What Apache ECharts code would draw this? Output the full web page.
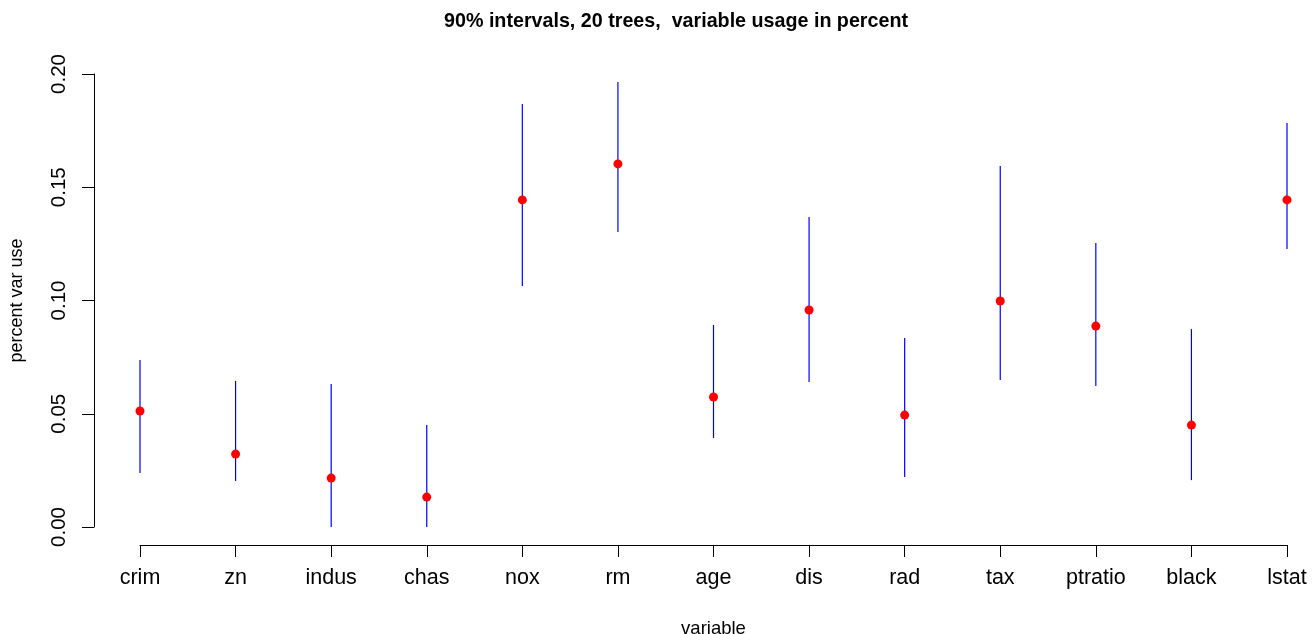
<!DOCTYPE html>
<html>
<head>
<meta charset="utf-8">
<script src="https://cdn.jsdelivr.net/npm/echarts@6/dist/echarts.min.js"></script>
<style>html,body{margin:0;padding:0;background:#fff;overflow:hidden}#c{width:1316px;height:634px}</style>
</head>
<body>
<div id="c"></div>
<script>
const categories = ['crim','zn','indus','chas','nox','rm','age','dis','rad','tax','ptratio','black','lstat'];
const pointValues = [0.0512,0.0322,0.0216,0.0132,0.1444,0.1603,0.0574,0.0958,0.0494,0.0998,0.0887,0.0450,0.1444];
const lowValues   = [0.0238,0.0203,0.0000,0.0000,0.1064,0.1302,0.0393,0.0640,0.0221,0.0649,0.0623,0.0207,0.1227];
const highValues  = [0.0737,0.0645,0.0631,0.0450,0.1868,0.1965,0.0892,0.1369,0.0834,0.1594,0.1254,0.0874,0.1784];
const yTicks = [0, 0.05, 0.10, 0.15, 0.20];

const font = 'Liberation Sans, Arial, sans-serif';
const chart = echarts.init(document.getElementById('c'), null, {renderer:'canvas', width:1316, height:634});
const intervalData = categories.map((c,i)=>[i, lowValues[i], highValues[i]]);
const pointData = categories.map((c,i)=>[i, pointValues[i]]);

chart.setOption({
  animation:false,
  backgroundColor:'#ffffff',
  title:{
    text:'90% intervals, 20 trees,  variable usage in percent',
    left:671, top:7, textAlign:'center',
    textStyle:{fontFamily:font, fontWeight:'bold', fontSize:19.7, color:'#000'}
  },
  grid:{left:140, right:29, top:74, bottom:107, containLabel:false, outerBoundsMode:'none'},
  xAxis:{
    type:'category', data:categories, boundaryGap:false, offset:18,
    name:'variable', nameLocation:'middle', nameGap:74,
    nameTextStyle:{fontFamily:font, fontSize:18.5, color:'#000'},
    axisLine:{show:true, onZero:false, lineStyle:{color:'#000', width:1}},
    axisTick:{show:true, length:12, lineStyle:{color:'#000'}},
    axisLabel:{fontFamily:font, fontSize:21.5, color:'#000', margin:22, interval:0},
    splitLine:{show:false}
  },
  yAxis:{
    type:'value', min:0, max:0.2, interval:0.05, offset:46,
    name:'percent var use', nameLocation:'middle', nameGap:68, nameRotate:90,
    nameTextStyle:{fontFamily:font, fontSize:18, color:'#000'},
    axisLine:{show:true, onZero:false, lineStyle:{color:'#000', width:1}},
    axisTick:{show:true, length:12, lineStyle:{color:'#000'}},
    axisLabel:{fontFamily:font, fontSize:20.5, color:'#000', margin:24, rotate:90,
      formatter:v=>{const t=yTicks.find(x=>Math.abs(x-v)<1e-9); return (t!==undefined?t:v).toFixed(2);}},
    splitLine:{show:false}
  },
  series:[
    {
      type:'custom', data:intervalData, clip:false, z:2,
      renderItem:function(params, api){
        const p1 = api.coord([api.value(0), api.value(1)]);
        const p2 = api.coord([api.value(0), api.value(2)]);
        return {type:'line', shape:{x1:p1[0], y1:p1[1], x2:p2[0], y2:p2[1]},
          style:{stroke:'#0000ff', lineWidth:1.2}};
      }
    },
    {
      type:'scatter', data:pointData, symbol:'circle', symbolSize:9, z:3,
      itemStyle:{color:'#ff0000', opacity:1}
    }
  ]
});
</script>
</body>
</html>
